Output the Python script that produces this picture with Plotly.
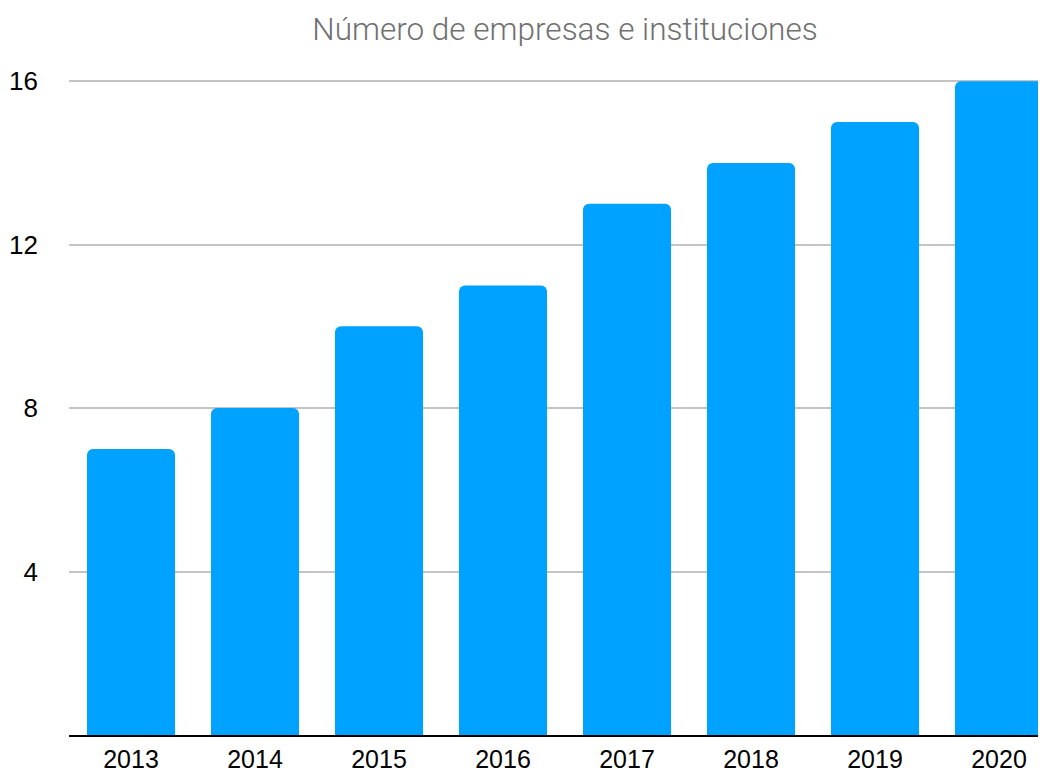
import plotly.graph_objects as go

years = ["2013", "2014", "2015", "2016", "2017", "2018", "2019", "2020"]
values = [7, 8, 10, 11, 13, 14, 15, 16]
y_ticks = [4, 8, 12, 16]
title_text = "Número de empresas e instituciones"

fig = go.Figure(go.Bar(
    x=years, y=values,
    marker=dict(color="#00A2FF", line=dict(width=0)),
    width=0.71,
))

fig.update_layout(
    width=1038, height=768,
    margin=dict(l=61, r=0, t=65, b=41),
    paper_bgcolor="white", plot_bgcolor="white",
    barcornerradius=6,
    showlegend=False,
    title=dict(text=title_text, x=557/1038, xref="container", xanchor="center",
               y=1 - 21/768, yref="container", yanchor="middle",
               font=dict(family="Roboto", size=31.5, color="#707070", weight=300)),
    font=dict(family="Liberation Sans, Arial, sans-serif", size=26, color="black"),
)
fig.update_xaxes(
    type="category", range=[-0.5, 7.379], automargin=False,
    showline=True, linecolor="black", linewidth=2,
    showgrid=False, ticks="", ticklabelstandoff=1,
    tickfont=dict(size=25, color="black"),
)
fig.update_yaxes(
    range=[0, 16.2], tickvals=y_ticks, automargin=False,
    showgrid=True, gridcolor="#c4c4c4", gridwidth=2,
    zeroline=False, showline=False, ticks="",
    ticklabelstandoff=30,
    tickfont=dict(size=26, color="black"),
)

fig.write_html("out.html")
